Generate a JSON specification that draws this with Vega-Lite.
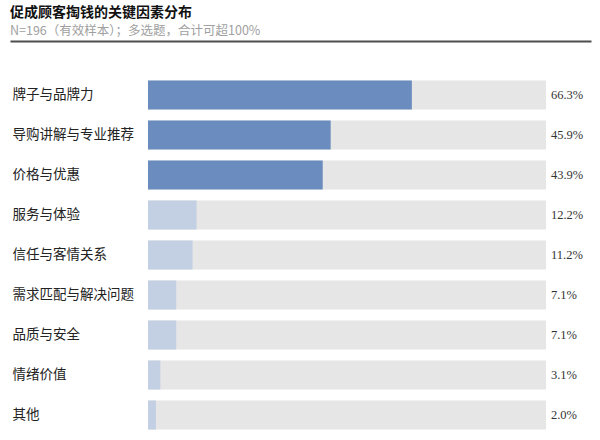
{
  "$schema": "https://vega.github.io/schema/vega-lite/v6.json",
  "autosize": {"type": "none"},
  "padding": {"left": 10, "top": 75, "right": 9, "bottom": 5},
  "width": 581,
  "height": 360,
  "background": "#ffffff",
  "title": {
    "text": "促成顾客掏钱的关键因素分布",
    "subtitle": "N=196（有效样本）；多选题，合计可超100%",
    "anchor": "start",
    "frame": "group",
    "font": "Noto Sans CJK SC",
    "fontSize": 14,
    "fontWeight": "bold",
    "color": "#111111",
    "subtitleFont": "Noto Sans CJK SC",
    "subtitleFontSize": 12.5,
    "subtitleColor": "#a0a0a0",
    "subtitlePadding": 5,
    "offset": 4
  },
  "config": {
    "view": {"stroke": null},
    "font": "Noto Sans CJK SC"
  },
  "data": {
    "values": [
      {"factor": "牌子与品牌力", "share": 0.663},
      {"factor": "导购讲解与专业推荐", "share": 0.459},
      {"factor": "价格与优惠", "share": 0.439},
      {"factor": "服务与体验", "share": 0.122},
      {"factor": "信任与客情关系", "share": 0.112},
      {"factor": "需求匹配与解决问题", "share": 0.071},
      {"factor": "品质与安全", "share": 0.071},
      {"factor": "情绪价值", "share": 0.031},
      {"factor": "其他", "share": 0.02}
    ]
  },
  "layer": [
    {
      "mark": {"type": "bar", "color": "#e6e6e6"},
      "encoding": {
        "y": {
          "field": "factor",
          "type": "nominal",
          "sort": null,
          "title": null,
          "scale": {"paddingInner": 0.275, "paddingOuter": 0.1375},
          "axis": {
            "domain": false,
            "ticks": false,
            "labelAlign": "left",
            "labelPadding": -2,
            "labelFontSize": 13.5,
            "labelColor": "#222222",
            "labelFont": "Noto Sans CJK SC"
          }
        },
        "x": {
          "datum": 1,
          "type": "quantitative",
          "scale": {"domain": [-0.3467, 1.1131], "nice": false, "zero": false},
          "axis": {
            "orient": "top",
            "offset": 34,
            "grid": false,
            "ticks": false,
            "labels": false,
            "title": null,
            "domainColor": "#4d4d4d",
            "domainWidth": 2
          }
        }
      }
    },
    {
      "mark": {"type": "bar", "color": "#c3d0e4"},
      "encoding": {
        "y": {"field": "factor", "type": "nominal", "sort": null},
        "x": {"field": "share", "type": "quantitative"},
        "color": {
          "condition": {"test": "datum.share >= 0.4", "value": "#6b8cbe"},
          "value": "#c3d0e4"
        }
      }
    },
    {
      "mark": {
        "type": "text",
        "align": "left",
        "baseline": "middle",
        "dx": 5,
        "font": "Liberation Serif",
        "fontSize": 12.5,
        "color": "#333333"
      },
      "encoding": {
        "y": {"field": "factor", "type": "nominal", "sort": null},
        "x": {"datum": 1, "type": "quantitative"},
        "text": {"field": "share", "type": "quantitative", "format": ".1%"}
      }
    }
  ]
}
